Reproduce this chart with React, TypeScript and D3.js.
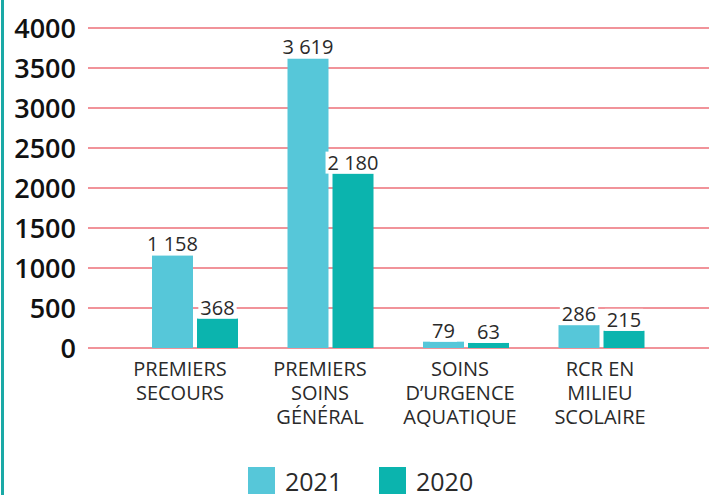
import React, { useEffect, useRef } from "react";
import * as d3 from "d3";

const categories = [
  ["PREMIERS", "SECOURS"],
  ["PREMIERS", "SOINS", "GÉNÉRAL"],
  ["SOINS", "D\u2019URGENCE", "AQUATIQUE"],
  ["RCR EN", "MILIEU", "SCOLAIRE"],
];
const series = ["2021", "2020"];
const values2021 = [1158, 3619, 79, 286];
const values2020 = [368, 2180, 63, 215];
const yTicks = [0, 500, 1000, 1500, 2000, 2500, 3000, 3500, 4000];
const colors = ["#56c7d9", "#0bb4ae"];

const fmt = (v: number) => d3.format(",")(v).replace(/,/g, " ");

function App() {
  const ref = useRef<SVGSVGElement>(null);

  useEffect(() => {
    const svg = d3.select(ref.current);
    svg.selectAll("*").remove();
    const width = 709;
    const font = "'Open Sans', sans-serif";

    const y = d3.scaleLinear().domain([0, 4000]).range([348, 28]);
    const x = d3
      .scaleBand()
      .domain(categories.map((d, i) => String(i)))
      .range([127, 669]);
    const xLabel = d3
      .scaleBand()
      .domain(categories.map((d, i) => String(i)))
      .range([110, 670]);
    const xs = d3.scaleBand().domain(series).range([25, 111]).paddingInner(0.089);

    // left border
    svg.append("rect").attr("x", 1).attr("y", 0).attr("width", 3).attr("height", 495).attr("fill", "#1aa9a6");

    // gridlines
    svg
      .append("g")
      .selectAll("line")
      .data(yTicks)
      .enter()
      .append("line")
      .attr("x1", 88)
      .attr("x2", width)
      .attr("y1", (d) => y(d))
      .attr("y2", (d) => y(d))
      .attr("stroke", "#ec6f78")
      .attr("stroke-width", 1.5);

    svg
      .append("g")
      .selectAll("text")
      .data(yTicks)
      .enter()
      .append("text")
      .attr("x", 76)
      .attr("y", (d) => y(d))
      .attr("dy", "0.36em")
      .attr("text-anchor", "end")
      .attr("font-family", font)
      .attr("font-weight", 600)
      .attr("font-size", 27)
      .attr("fill", "#111")
      .text((d) => d);

    const data = categories.map((c, i) => ({
      i: String(i),
      vals: [values2021[i], values2020[i]],
    }));

    const groups = svg
      .append("g")
      .selectAll("g")
      .data(data)
      .enter()
      .append("g")
      .attr("transform", (d) => `translate(${x(d.i)},0)`);

    groups
      .selectAll("rect")
      .data((d) => d.vals.map((v, k) => ({ v, s: series[k], k })))
      .enter()
      .append("rect")
      .attr("x", (d) => xs(d.s)!)
      .attr("width", xs.bandwidth())
      .attr("y", (d) => y(d.v))
      .attr("height", (d) => y(0) - y(d.v))
      .attr("fill", (d) => colors[d.k]);

    const labels = groups
      .selectAll("g.lbl")
      .data((d) => d.vals.map((v, k) => ({ v, s: series[k], k })))
      .enter()
      .append("g")
      .attr("class", "lbl");

    labels.each(function (d) {
      const g = d3.select(this);
      const cx = xs(d.s)! + xs.bandwidth() / 2;
      const t = g
        .append("text")
        .attr("x", cx)
        .attr("y", y(d.v) - 4)
        .attr("text-anchor", "middle")
        .attr("font-family", font)
        .attr("font-size", 20)
        .attr("fill", "#2a2a2a")
        .text(fmt(d.v));
      const bb = (t.node() as SVGTextElement).getBBox();
      g.insert("rect", "text")
        .attr("x", bb.x - 2)
        .attr("y", bb.y + 3)
        .attr("width", bb.width + 4)
        .attr("height", bb.height - 5)
        .attr("fill", "#fff");
    });

    // category labels
    svg
      .append("g")
      .selectAll("text")
      .data(categories)
      .enter()
      .append("text")
      .attr("text-anchor", "middle")
      .attr("font-family", font)
      .attr("font-size", 20)
      .attr("fill", "#2a2a2a")
      .each(function (d, i) {
        const t = d3.select(this);
        const cx = xLabel(String(i))! + xLabel.bandwidth() / 2;
        d.forEach((line, j) => {
          t.append("tspan").attr("x", cx).attr("y", 376 + j * 24).text(line);
        });
      });

    // legend
    const legendX = [248, 379];
    const lg = svg
      .append("g")
      .selectAll("g")
      .data(series)
      .enter()
      .append("g")
      .attr("transform", (d, i) => `translate(${legendX[i]},467)`);
    lg.append("rect").attr("width", 27).attr("height", 27).attr("fill", (d, i) => colors[i]);
    lg.append("text")
      .attr("x", 37)
      .attr("y", 24)
      .attr("font-family", font)
      .attr("font-size", 25)
      .attr("fill", "#2a2a2a")
      .text((d) => d);
  }, []);

  return (
    <div style={{ position: "fixed", left: 0, top: 0 }}>
      <svg ref={ref} width={709} height={495} style={{ display: "block", background: "#fff" }} />
    </div>
  );
}

export default App;
